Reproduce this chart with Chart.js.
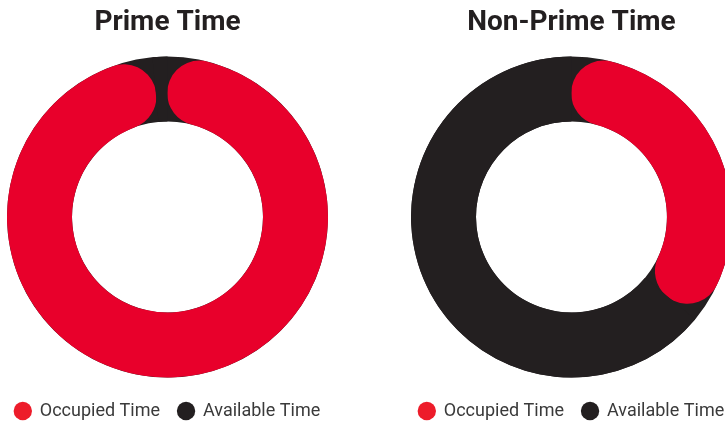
<!DOCTYPE html>
<html>
<head>
<meta charset="utf-8">
<script src="https://cdn.jsdelivr.net/npm/chart.js@4/dist/chart.umd.min.js"></script>
<style>
  body { margin: 0; background: #ffffff; }
  .charts { position: relative; width: 725px; height: 423px; overflow: hidden; }
  .charts canvas { position: absolute; top: 0; }
  #prime { left: -12px; }
  #nonPrime { left: 392px; }
</style>
</head>
<body>
<div class="charts">
  <canvas id="prime" width="359" height="430"></canvas>
  <canvas id="nonPrime" width="359" height="430"></canvas>
</div>
<script>
// データ=====================================================================
const titles = ["Prime Time", "Non-Prime Time"];
const categories = ["Occupied Time", "Available Time"];
const primeValues = [98.5, 1.5];
const nonPrimeValues = [36, 64];

const ringColors = ["#e8002b", "#231f20"];
const legendColors = ["#ed1c2a", "#231f20"];

// リングの下地（黒）を先に塗っておく==========================================
const ringBase = {
  id: "ringBase",
  beforeDatasetsDraw(chart) {
    const arc = chart.getDatasetMeta(0).data[0];
    if (!arc) return;
    const { x, y, innerRadius, outerRadius } = arc.getProps(["x", "y", "innerRadius", "outerRadius"], true);
    const ctx = chart.ctx;
    ctx.save();
    ctx.fillStyle = ringColors[1];
    ctx.beginPath();
    ctx.arc(x, y, outerRadius, 0, Math.PI * 2);
    ctx.arc(x, y, innerRadius, 0, Math.PI * 2, true);
    ctx.fill();
    ctx.restore();
  }
};

// ドーナツグラフ==============================================================
function buildChart(id, title, values) {
  const config = {
    type: "doughnut",
    data: {
      labels: categories,
      datasets: [{
        data: values,
        backgroundColor: ringColors,
        borderWidth: 0,
        hoverOffset: 0,
        // 使用中の部分だけ端を丸める
        borderRadius: (c) => (c.dataIndex === 0 ? 40 : 0)
      }]
    },
    options: {
      responsive: false,
      animation: false,
      radius: 160.5,
      cutout: "59.5%",
      plugins: {
        tooltip: { enabled: false },
        title: {
          display: true,
          text: title,
          color: "#231f20",
          font: { family: "Roboto", size: 28, weight: "bold" },
          padding: { top: 6, bottom: 10.4 }
        },
        legend: {
          position: "bottom",
          labels: {
            usePointStyle: true,
            pointStyle: "circle",
            boxWidth: 16,
            boxHeight: 13,
            padding: 18,
            color: "#3a3a3a",
            font: { family: "Roboto", size: 18 },
            generateLabels(chart) {
              const items = Chart.overrides.doughnut.plugins.legend.labels.generateLabels(chart);
              return items.map((item, i) => ({ ...item, fillStyle: legendColors[i], strokeStyle: legendColors[i], lineWidth: 0 }));
            }
          }
        }
      }
    },
    plugins: [ringBase]
  };
  return new Chart(document.getElementById(id), config);
}

buildChart("prime", titles[0], primeValues);
buildChart("nonPrime", titles[1], nonPrimeValues);
</script>
</body>
</html>
